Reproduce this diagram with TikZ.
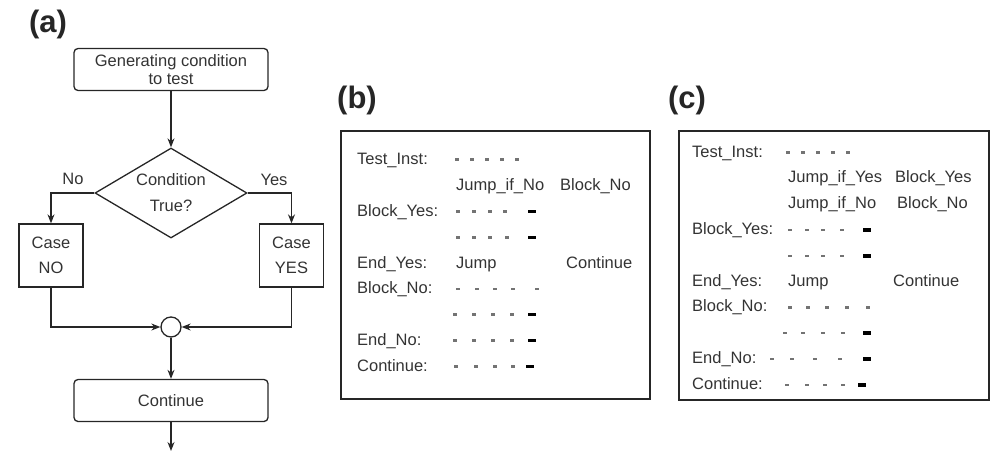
\documentclass[tikz,border=0pt]{standalone}
\usepackage{fontspec}
\setmainfont{Liberation Sans}
\usetikzlibrary{shapes.geometric,arrows.meta}

% a row of light dashes and a heavy closing dash
\newcommand\smalldashes[2]{\foreach \x in {#2} \draw[sdash] (\x-2,#1) -- (\x+2,#1);}
\newcommand\bolddash[2]{\draw[bdash] (#2-4,#1) -- (#2+4,#1);}

\begin{document}
\begin{tikzpicture}[x=1pt,y=-1pt,
  txt/.style={font=\fontsize{16.5}{19}\selectfont, text=black!80},
  panel/.style={font=\fontsize{31}{34}\selectfont\bfseries, text=black!85, inner sep=0pt},
  flow/.style={draw=black!85, line width=1.3pt, txt},
  term/.style={flow, rounded corners=4pt, minimum width=194pt, minimum height=42pt, inner sep=0pt, align=center},
  casebox/.style={flow, minimum width=64pt, minimum height=63pt, inner sep=0pt, align=center, font=\fontsize{16.5}{25}\selectfont},
  link/.style={draw=black!85, line width=1.3pt, -{Stealth[length=9pt,width=7pt]}},
  frame/.style={draw=black!85, line width=1.6pt, inner sep=0pt, anchor=north west},
  code/.style={txt, anchor=base west, inner sep=0pt},
  sdash/.style={draw=black!55, line width=2.4pt},
  bdash/.style={draw=black, line width=3.8pt}
]
\useasboundingbox (0,0) rectangle (997,458);

% ---------- (a) flow chart ----------
\node[panel] (la) at (48,24) {(a)};
\node[term, font=\fontsize{16.5}{18}\selectfont] (gen) at (171,69.5) {Generating condition\\to test};
\node[flow, diamond, shape aspect=1.7, inner sep=0pt, minimum width=152pt, minimum height=90pt,
      align=center, font=\fontsize{16.5}{26}\selectfont] (cond) at (171,193) {Condition\\True?};
\node[casebox] (cno) at (51,255.5) {Case\\NO};
\node[casebox] (cyes) at (291.5,255.5) {Case\\YES};
\node[circle, draw=black!85, line width=1.3pt, minimum size=20pt, inner sep=0pt] (join) at (171,327) {};
\node[term] (cont) at (171,400.5) {Continue};
\coordinate (out) at (171,451);

\node[txt] (no) at (73,179) {No};
\node[txt] (yes) at (274,180) {Yes};

\draw[link] (gen) -- (cond);
\draw[link] (cond.west) -| (cno.north);
\draw[link] (cond.east) -| (cyes.north);
\draw[link] (cno.south) |- (join.west);
\draw[link] (cyes.south) |- (join.east);
\draw[link] (join) -- (cont);
\draw[link] (cont) -- (out);

% ---------- (b) one conditional jump ----------
\node[panel] (lb) at (357,100) {(b)};
\node[frame, minimum width=309pt, minimum height=268pt] (bframe) at (340,130) {};

\node[code] (b1) at (357,164) {Test\_Inst:};
\node[code] (b2a) at (456,190) {Jump\_if\_No};
\node[code] (b2b) at (560,190) {Block\_No};
\node[code] (b3) at (357,216) {Block\_Yes:};
\node[code] (b5a) at (357,268) {End\_Yes:};
\node[code] (b5b) at (456,268) {Jump};
\node[code] (b5c) at (566,268) {Continue};
\node[code] (b6) at (357,293.5) {Block\_No:};
\node[code] (b8) at (357,345) {End\_No:};
\node[code] (b9) at (357,371) {Continue:};

\smalldashes{159.5}{457,472,487,502,517}
\smalldashes{211.5}{458,474,490,505} \bolddash{211.5}{532}
\smalldashes{237.5}{458,474,490,507} \bolddash{237.5}{532}
\smalldashes{289}{458,477,495,513,537}
\smalldashes{314.5}{455,474,493,512} \bolddash{314.5}{532}
\smalldashes{340.5}{455,474,493,512} \bolddash{340.5}{532}
\smalldashes{366.5}{456,476,495,513} \bolddash{366.5}{530}

% ---------- (c) two conditional jumps ----------
\node[panel] (lc) at (687,100) {(c)};
\node[frame, minimum width=310pt, minimum height=269pt] (cframe) at (678,130) {};

\node[code] (c1) at (692,157) {Test\_Inst:};
\node[code] (c2a) at (788,182.8) {Jump\_if\_Yes};
\node[code] (c2b) at (895,182.8) {Block\_Yes};
\node[code] (c3a) at (788,208.6) {Jump\_if\_No};
\node[code] (c3b) at (897,208.6) {Block\_No};
\node[code] (c4) at (692,234.4) {Block\_Yes:};
\node[code] (c6a) at (692,286) {End\_Yes:};
\node[code] (c6b) at (788,286) {Jump};
\node[code] (c6c) at (893,286) {Continue};
\node[code] (c7) at (692,311.8) {Block\_No:};
\node[code] (c9) at (692,363.4) {End\_No:};
\node[code] (c10) at (692,389.2) {Continue:};

\smalldashes{152.5}{788,803,818,833,848}
\smalldashes{229.9}{790,807,823,842} \bolddash{229.9}{867}
\smalldashes{255.7}{790,807,823,842} \bolddash{255.7}{867}
\smalldashes{307.3}{790,808,827,847,868}
\smalldashes{333.1}{785,803,823,843} \bolddash{333.1}{867}
\smalldashes{358.9}{772,792,815,840} \bolddash{358.9}{867}
\smalldashes{384.7}{787,807,825,843} \bolddash{384.7}{862}
\end{tikzpicture}
\end{document}
